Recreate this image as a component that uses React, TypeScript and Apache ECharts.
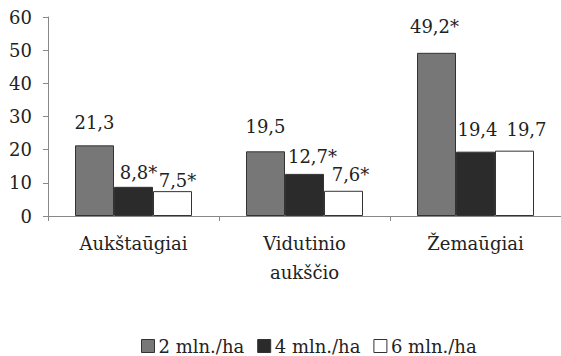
import React, { useEffect, useRef } from "react";
import * as echarts from "echarts";

const categories = ["Aukštaūgiai", "Vidutinio\naukščio", "Žemaūgiai"];
const seriesNames = ["2 mln./ha", "4 mln./ha", "6 mln./ha"];
const values2 = [21.3, 19.5, 49.2];
const values4 = [8.8, 12.7, 19.4];
const values6 = [7.5, 7.6, 19.7];
const labels2 = ["21,3", "19,5", "49,2*"];
const labels4 = ["8,8*", "12,7*", "19,4"];
const labels6 = ["7,5*", "7,6*", "19,7"];
const yTicks = [0, 10, 20, 30, 40, 50, 60];

const offsets2 = [[0, -9], [0, -11], [-2, -12]];
const offsets4 = [[5, 0], [8, -3], [2, -8]];
const offsets6 = [[5, 3], [7, -2], [12, -7]];

const FONT = "DejaVu Serif";

function build(values: number[], labels: string[], offs: number[][]) {
  return values.map((v, i) => ({
    value: v,
    label: { formatter: labels[i], offset: offs[i] },
  }));
}

export default function App() {
  const ref = useRef<HTMLDivElement>(null);
  useEffect(() => {
    if (!ref.current) return;
    const chart = echarts.init(ref.current, undefined, { renderer: "svg" });
    const colors = ["#777777", "#2b2b2b", "#ffffff"];
    const labelStyle = {
      show: true,
      position: "top",
      fontFamily: FONT,
      fontSize: 18,
      color: "#222",
    };
    const mk = (name: string, data: any, color: string) => ({
      name,
      type: "bar",
      data,
      barWidth: 39,
      barGap: "0%",
      itemStyle: { color, borderColor: "#333", borderWidth: 1 },
      label: labelStyle,
    });
    chart.setOption({
      animation: false,
      backgroundColor: "#fff",
      textStyle: { fontFamily: FONT },
      grid: { left: 48, right: -5, top: 17, bottom: 140, containLabel: false },
      legend: {
        left: 136,
        top: 332,
        itemWidth: 13,
        itemHeight: 13,
        itemGap: 13,
        icon: "rect",
        textStyle: { fontFamily: FONT, fontSize: 18, color: "#222", padding: [0, 0, 0, -1] },
        data: seriesNames.map((n, i) => ({
          name: n,
          itemStyle: { color: colors[i], borderColor: "#333", borderWidth: 1 },
        })),
      },
      xAxis: {
        type: "category",
        data: categories,
        axisLine: { lineStyle: { color: "#888", width: 1 } },
        axisTick: { show: true, length: 5, lineStyle: { color: "#888" } },
        axisLabel: {
          fontFamily: FONT,
          fontSize: 18,
          color: "#222",
          margin: 13,
          lineHeight: 29,
        },
      },
      yAxis: {
        type: "value",
        min: 0,
        max: 60,
        interval: 10,
        axisLine: { show: true, lineStyle: { color: "#888", width: 1 } },
        axisTick: { show: true, length: 5, lineStyle: { color: "#888" } },
        splitLine: { show: false },
        axisLabel: {
          fontFamily: FONT,
          fontSize: 18,
          color: "#222",
          margin: 16,
          formatter: (v: number) => (yTicks.includes(v) ? String(v) : ""),
        },
      },
      series: [
        mk(seriesNames[0], build(values2, labels2, offsets2), colors[0]),
        mk(seriesNames[1], build(values4, labels4, offsets4), colors[1]),
        mk(seriesNames[2], build(values6, labels6, offsets6), colors[2]),
      ],
    });
    return () => chart.dispose();
  }, []);
  return (
    <div
      ref={ref}
      style={{ position: "fixed", left: 0, top: 0, width: 561, height: 356 }}
    />
  );
}
